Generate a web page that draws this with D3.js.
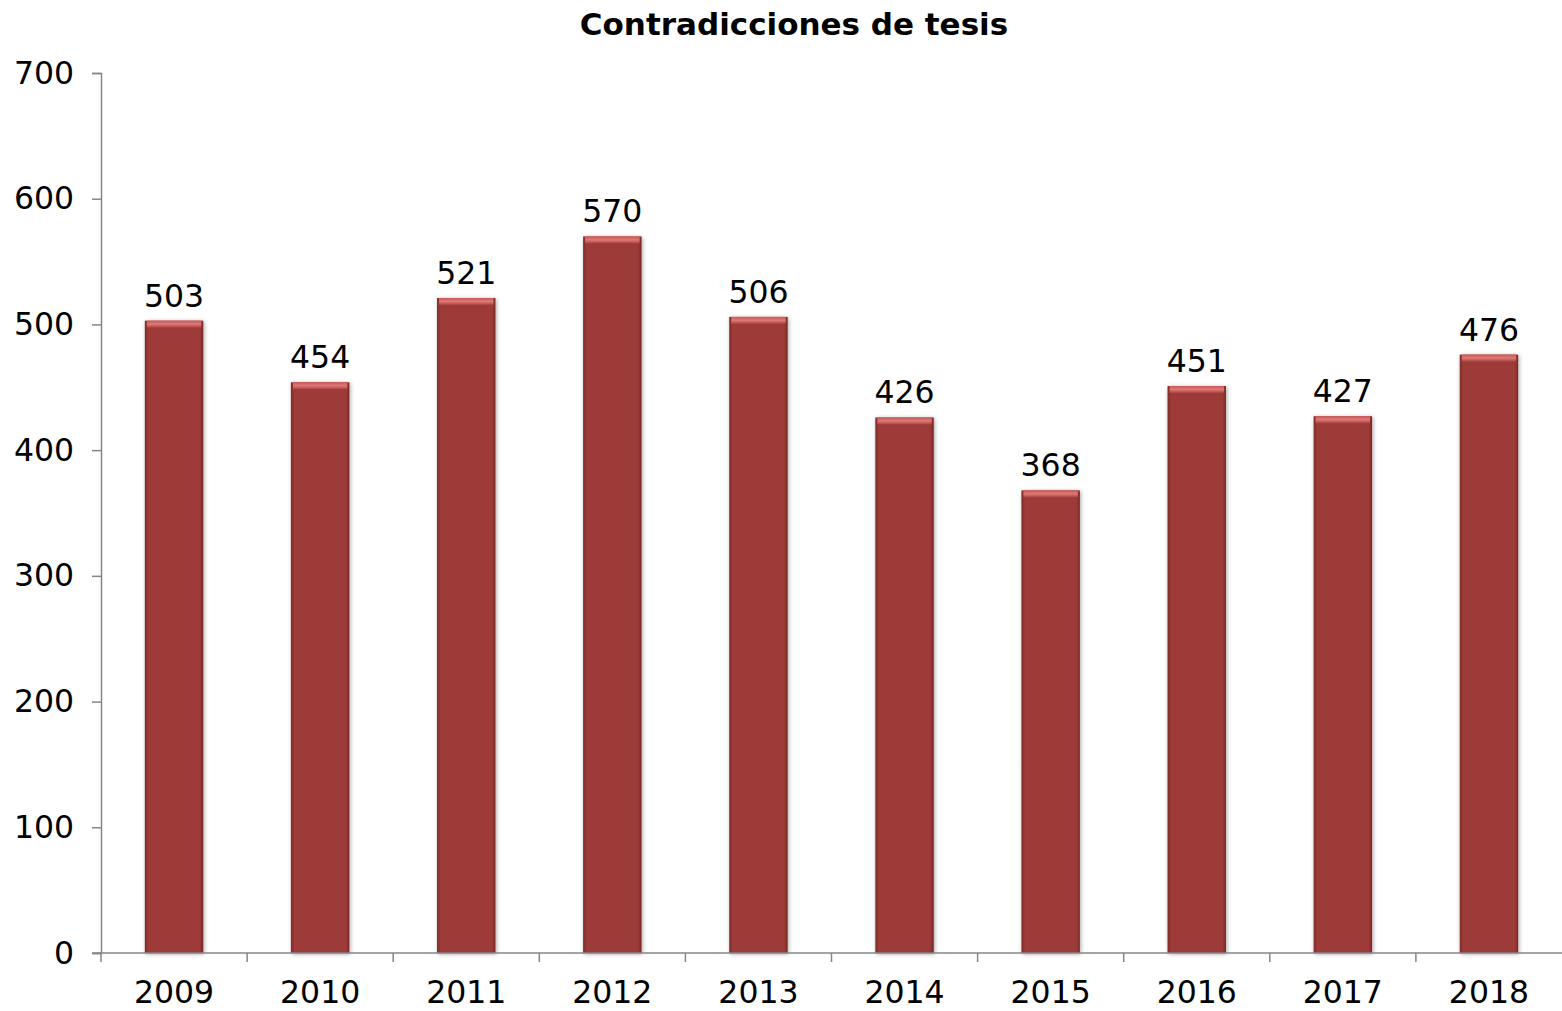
<!DOCTYPE html>
<html><head><meta charset="utf-8">
<script src="https://cdn.jsdelivr.net/npm/d3@7"></script>
<style>body{margin:0;background:#fff}</style>
</head><body>
<script>
const years = ["2009","2010","2011","2012","2013","2014","2015","2016","2017","2018"];
const values = [503,454,521,570,506,426,368,451,427,476];
const yTicks = [0,100,200,300,400,500,600,700];
const title = "Contradicciones de tesis";

const W = 1562, H = 1011;
const font = "Verdana, 'DejaVu Sans', sans-serif";
const fs = 31.5;
const svg = d3.select("body").append("svg").attr("width", W).attr("height", H);

const x = d3.scaleBand().domain(years).range([101, 1562]).paddingInner(0.6).paddingOuter(0.3);
const y = d3.scaleLinear().domain([0, 700]).range([953, 73]);

const defs = svg.append("defs");
const gh = defs.append("linearGradient").attr("id","gh").attr("x1",0).attr("x2",1).attr("y1",0).attr("y2",0);
gh.append("stop").attr("offset","0%").attr("stop-color","#7e2a28");
gh.append("stop").attr("offset","6%").attr("stop-color","#9c3a38");
gh.append("stop").attr("offset","94%").attr("stop-color","#9c3a38");
gh.append("stop").attr("offset","100%").attr("stop-color","#7a2826");
const gt = defs.append("linearGradient").attr("id","gt").attr("x1",0).attr("x2",0).attr("y1",0).attr("y2",1);
gt.append("stop").attr("offset","0%").attr("stop-color","#c85a58");
gt.append("stop").attr("offset","50%").attr("stop-color","#e07876");
gt.append("stop").attr("offset","100%").attr("stop-color","#a84442");
const f = defs.append("filter").attr("id","sh").attr("x","-20%").attr("y","-5%").attr("width","140%").attr("height","110%");
f.append("feGaussianBlur").attr("in","SourceAlpha").attr("stdDeviation",2);
f.append("feOffset").attr("dx",1).attr("dy",1).attr("result","b");
f.append("feComponentTransfer").append("feFuncA").attr("type","linear").attr("slope",0.35);
const m = f.append("feMerge"); m.append("feMergeNode"); m.append("feMergeNode").attr("in","SourceGraphic");

// title
svg.append("text").attr("x", 794).attr("y", 35).attr("text-anchor","middle")
  .attr("font-family", font).attr("font-weight","bold").attr("font-size", 31).text(title);

// bars
const bars = svg.append("g").selectAll("g").data(years).join("g").attr("filter","url(#sh)");
bars.append("rect")
  .attr("x", d => x(d)).attr("y", (d,i) => y(values[i]))
  .attr("width", x.bandwidth()).attr("height", (d,i) => y(0) - y(values[i]))
  .attr("fill", "url(#gh)");
bars.append("rect")
  .attr("x", d => x(d)+2).attr("y", (d,i) => y(values[i]))
  .attr("width", x.bandwidth()-4).attr("height", 7)
  .attr("fill", "url(#gt)");

// labels
svg.append("g").selectAll("text").data(years).join("text")
  .attr("x", d => x(d) + x.bandwidth()/2).attr("y", (d,i) => y(values[i]) - 14)
  .attr("text-anchor","middle").attr("font-family", font).attr("font-size", fs).attr("fill","#000")
  .text((d,i) => values[i]);

// y axis
const ya = svg.append("g").attr("transform","translate(101,0)")
  .call(d3.axisLeft(y).tickValues(yTicks).tickSize(9).tickPadding(18));
ya.select(".domain").attr("stroke","#868686").attr("stroke-width",1.5);
ya.selectAll(".tick line").attr("stroke","#868686").attr("stroke-width",1.5);
ya.selectAll("text").attr("font-family", font).attr("font-size", fs).attr("fill","#000");

// x axis
const xt = d3.scaleLinear().domain([0,10]).range([101,1562]);
const xa = svg.append("g").attr("transform","translate(0,953)");
xa.append("line").attr("x1",92).attr("x2",1562).attr("y1",0).attr("y2",0).attr("stroke","#868686").attr("stroke-width",1.5);
xa.selectAll("line.t").data(d3.range(0,10)).join("line").attr("class","t")
  .attr("x1", d => xt(d)).attr("x2", d => xt(d)).attr("y1",0).attr("y2",9)
  .attr("stroke","#868686").attr("stroke-width",1.5);
xa.selectAll("text").data(years).join("text")
  .attr("x", d => x(d) + x.bandwidth()/2).attr("y", 50)
  .attr("text-anchor","middle").attr("font-family", font).attr("font-size", fs).attr("fill","#000")
  .text(d => d);
</script>
</body></html>
